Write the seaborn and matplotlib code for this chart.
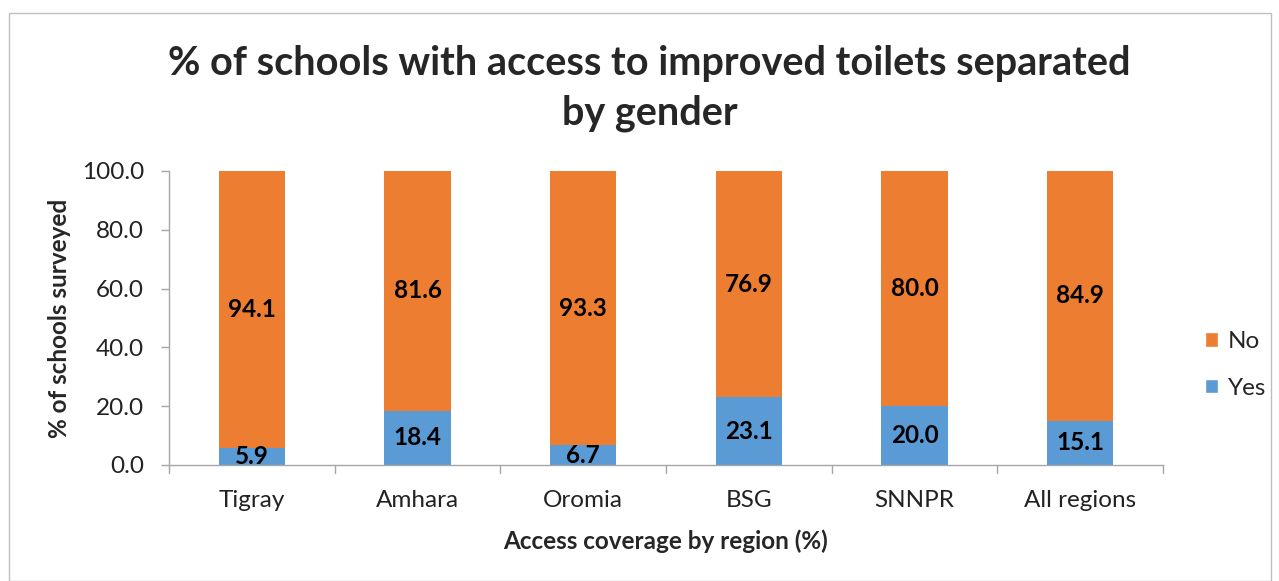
import matplotlib
matplotlib.use("Agg")
import matplotlib.pyplot as plt
import seaborn as sns
import pandas as pd
from matplotlib.patches import Rectangle, Patch

regions = ["Tigray", "Amhara", "Oromia", "BSG", "SNNPR", "All regions"]
yes_vals = [5.9, 18.4, 6.7, 23.1, 20.0, 15.1]
no_vals = [94.1, 81.6, 93.3, 76.9, 80.0, 84.9]
y_ticks = [0, 20, 40, 60, 80, 100]

ORANGE = "#ED7D31"
BLUE = "#5B9BD5"
GRID = "#A6A6A6"

sns.set_theme(style="white")
plt.rcParams["font.family"] = ["Lato", "DejaVu Sans"]

df = pd.DataFrame({"region": regions, "Yes": yes_vals, "No": no_vals})
df["total"] = df["Yes"] + df["No"]

fig = plt.figure(figsize=(12.79, 5.81), dpi=100)
ax = fig.add_axes([0.1321, 0.1997, 0.9093 - 0.1321, 0.7057 - 0.1997])

# stacked bars: full column in orange, "Yes" share in blue at the base
sns.barplot(data=df, x="region", y="total", order=regions, color=ORANGE,
            width=0.4, saturation=1, ax=ax, edgecolor="none")
sns.barplot(data=df, x="region", y="Yes", order=regions, color=BLUE,
            width=0.4, saturation=1, ax=ax, edgecolor="none")

for i, (y, n) in enumerate(zip(yes_vals, no_vals)):
    ax.text(i, y / 2, f"{y:.1f}", ha="center", va="center",
            fontsize=17.5, fontweight="bold", color="black")
    ax.text(i, y + n / 2, f"{n:.1f}", ha="center", va="center",
            fontsize=17.5, fontweight="bold", color="black")

ax.set_xlim(-0.5, len(regions) - 0.5)
ax.set_ylim(0, 100)
ax.set_yticks(y_ticks)
ax.set_yticklabels([f"{v:.1f}" for v in y_ticks], fontsize=17.5, color="#222222")
ax.set_xticks(range(len(regions)))
ax.set_xticklabels(regions, fontsize=17.5, color="#222222")
ax.tick_params(axis="x", length=0, pad=18)
ax.tick_params(axis="y", length=6, color=GRID, width=1, direction="out", pad=12, left=True)

# category boundary ticks below the x axis
for b in [i - 0.5 for i in range(len(regions) + 1)]:
    ax.plot([b, b], [0, -2.6], color=GRID, lw=1, clip_on=False)

for s in ["top", "right"]:
    ax.spines[s].set_visible(False)
for s in ["left", "bottom"]:
    ax.spines[s].set_color(GRID)
    ax.spines[s].set_linewidth(1)

ax.set_xlabel("Access coverage by region (%)", fontsize=17.5, fontweight="bold", labelpad=13)
ax.set_ylabel("% of schools surveyed", fontsize=17.5, fontweight="bold", labelpad=8)

fig.text(0.508, 0.847, "% of schools with access to improved toilets separated\nby gender",
         ha="center", va="center", fontsize=28.5, fontweight="bold", linespacing=1.42)

handles = [Patch(facecolor=ORANGE, label="No"), Patch(facecolor=BLUE, label="Yes")]
fig.legend(handles=handles, loc="center left", bbox_to_anchor=(0.942, 0.372),
           frameon=False, fontsize=17.5, handlelength=0.55, handleheight=0.55,
           handletextpad=0.4, labelspacing=1.05, borderpad=0, borderaxespad=0)

fig.patches.append(Rectangle((0.007, 0.0), 0.987, 0.978, transform=fig.transFigure,
                             fill=False, edgecolor="#BFBFBF", lw=1))

fig.savefig("out.png", dpi=100)
